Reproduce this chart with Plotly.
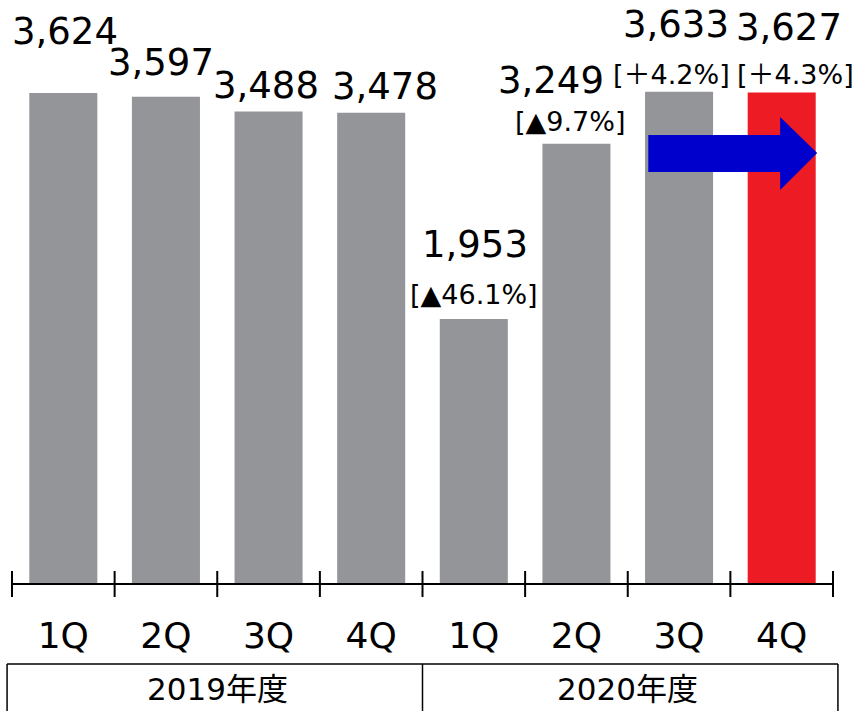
import plotly.graph_objects as go

categories = ["1Q", "2Q", "3Q", "4Q", "1Q ", "2Q ", "3Q ", "4Q "]
tick_text = ["1Q", "2Q", "3Q", "4Q", "1Q", "2Q", "3Q", "4Q"]
values = [3624, 3597, 3488, 3478, 1953, 3249, 3633, 3627]
value_labels = ["3,624", "3,597", "3,488", "3,478", "1,953", "3,249", "3,633", "3,627"]
pct_labels = [None, None, None, None, "[▲46.1%]", "[▲9.7%]", "[＋4.2%]", "[＋4.3%]"]
years = ["2019年度", "2020年度"]

colors = ["#939598"] * 7 + ["#ED1C24"]

# label placement offsets (pixels) relative to bar top
val_shift = [(1.5, 62), (-5, 34), (-3, 26), (14, 26), (1, 74), (-25, 63), (-3, 67), (7, 65)]
pct_shift = [None, None, None, None, (0, 24), (-6, 22), (-8, 17), (14, 18)]

FONT = "DejaVu Sans, Verdana, Noto Sans CJK JP"

fig = go.Figure()
fig.add_trace(go.Bar(x=categories, y=values, marker=dict(color=colors, line=dict(width=0)),
                     width=0.663, hoverinfo="skip"))

ann = []
for i, (c, v) in enumerate(zip(categories, values)):
    dx, dy = val_shift[i]
    ann.append(dict(x=c, y=v, text=value_labels[i], showarrow=False, xshift=dx, yshift=dy,
                    yanchor="middle", xanchor="center", font=dict(size=37, color="black", family=FONT)))
    if pct_labels[i]:
        dx, dy = pct_shift[i]
        ann.append(dict(x=c, y=v, text=pct_labels[i], showarrow=False, xshift=dx, yshift=dy,
                        yanchor="middle", xanchor="center", font=dict(size=27, color="black", family=FONT)))

# year group labels
n = len(categories)
for k, yl in enumerate(years):
    ann.append(dict(x=(k * 4 + 2) / n, xref="paper", y=-106 / 583, yref="paper", text=yl, showarrow=False,
                    yanchor="middle", xanchor="center", font=dict(size=31, color="black", family=FONT)))

shapes = []
# tick marks crossing the axis at category boundaries
for i in range(n + 1):
    shapes.append(dict(type="line", xref="paper", yref="paper", x0=i / n, x1=i / n,
                       y0=-14 / 583, y1=12 / 583, line=dict(color="black", width=2)))

# group boxes
box_top, box_bot = -0.139, -0.3
shapes.append(dict(type="line", xref="paper", yref="paper", x0=-0.006, x1=1.006, y0=box_top, y1=box_top,
                   line=dict(color="black", width=1.5)))
for xp in [-0.006, 0.5, 1.006]:
    shapes.append(dict(type="line", xref="paper", yref="paper", x0=xp, x1=xp, y0=box_top, y1=box_bot,
                       line=dict(color="black", width=1.5)))

# blue arrow from 3Q to 4Q
x_s, x_h, x_t = 5.70, 6.985, 7.346
y_s1, y_s2, y_h1, y_h2, y_m = 3313, 3040, 3446, 2907, 3180
path = (f"M {x_s},{y_s1} L {x_h},{y_s1} L {x_h},{y_h1} L {x_t},{y_m} L {x_h},{y_h2} "
        f"L {x_h},{y_s2} L {x_s},{y_s2} Z")
shapes.append(dict(type="path", xref="x", yref="y", path=path, fillcolor="#0000CC",
                   line=dict(width=0)))

fig.update_layout(
    width=854, height=711,
    margin=dict(l=12, r=21, t=0, b=128),
    plot_bgcolor="white", paper_bgcolor="white",
    showlegend=False,
    bargap=0.337,
    annotations=ann, shapes=shapes,
    xaxis=dict(type="category", tickmode="array", tickvals=categories, ticktext=tick_text,
               showline=True, linecolor="black", linewidth=2, ticks="", showgrid=False,
               tickfont=dict(size=36, color="black", family=FONT), ticklabelstandoff=20,
               range=[-0.5, n - 0.5], fixedrange=True),
    yaxis=dict(visible=False, range=[0, 4312], fixedrange=True),
)

fig.write_html("out.html")
